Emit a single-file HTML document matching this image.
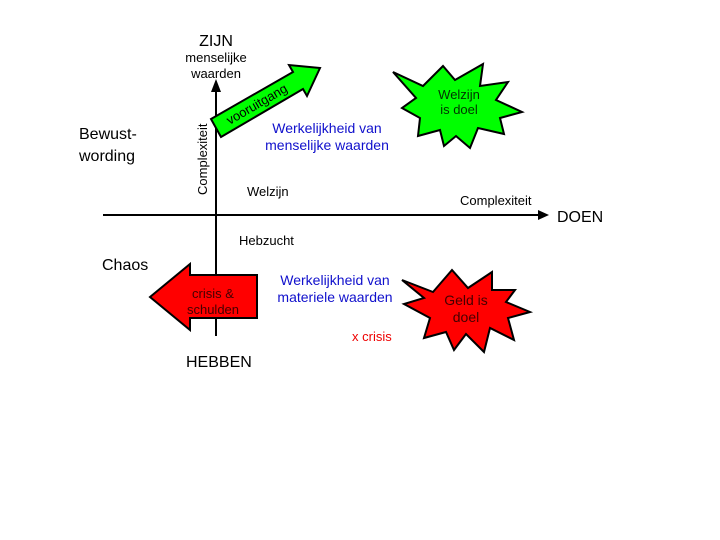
<!DOCTYPE html>
<html><head><style>body{margin:0;background:#fff}svg{display:block}</style></head><body>
<svg width="720" height="540" xmlns="http://www.w3.org/2000/svg" font-family="Liberation Sans, Arial, sans-serif">
<line x1="103" y1="215" x2="540" y2="215" stroke="#000" stroke-width="2"/>
<polygon points="549,215 538,210 538,220" fill="#000"/>
<line x1="216" y1="336" x2="216" y2="90" stroke="#000" stroke-width="2"/>
<polygon points="216,79 211,92 221,92" fill="#000"/>
<polygon points="221,137 211,119 293,72 289,65 320,68 307,96 303,89" fill="#00ff00" stroke="#000" stroke-width="2"/>
<text x="0" y="0" font-size="13" fill="#000" text-anchor="middle" transform="translate(259,108) rotate(-30)">vooruitgang</text>
<polygon points="150,297 190,264 190,275 257,275 257,318 190,318 190,330" fill="#ff0000" stroke="#000" stroke-width="2"/>
<text x="213" y="298" font-size="13" text-anchor="middle" fill="#400">crisis &amp;</text>
<text x="213" y="314" font-size="13" text-anchor="middle" fill="#400">schulden</text>
<polygon points="393,72 423,86 443,66 455,80 483,64 480,86 508,82 496,100 522,112 500,118 504,134 478,128 470,148 456,136 444,146 440,130 418,136 420,118 402,108 416,98" fill="#00ff00" stroke="#000" stroke-width="2"/>
<text x="459" y="99" font-size="13" text-anchor="middle" fill="#030">Welzijn</text>
<text x="459" y="114" font-size="13" text-anchor="middle" fill="#030">is doel</text>
<polygon points="402,280 433,292 452,270 468,288 492,272 492,290 515,290 506,302 530,312 508,318 514,340 490,328 484,352 466,334 454,350 446,332 424,338 430,318 404,304 424,298" fill="#ff0000" stroke="#000" stroke-width="2"/>
<text x="466" y="305" font-size="14" text-anchor="middle" fill="#400">Geld is</text>
<text x="466" y="322" font-size="14" text-anchor="middle" fill="#400">doel</text>
<text x="216" y="46" font-size="16" text-anchor="middle">ZIJN</text>
<text x="216" y="62" font-size="13" text-anchor="middle">menselijke</text>
<text x="216" y="78" font-size="13" text-anchor="middle">waarden</text>
<text x="0" y="0" font-size="13" transform="translate(207,195) rotate(-90)">Complexiteit</text>
<text x="79" y="139" font-size="16">Bewust-</text>
<text x="79" y="161" font-size="16">wording</text>
<text x="327" y="133" font-size="14" text-anchor="middle" fill="#1010cc">Werkelijkheid van</text>
<text x="327" y="150" font-size="14" text-anchor="middle" fill="#1010cc">menselijke waarden</text>
<text x="247" y="196" font-size="13">Welzijn</text>
<text x="460" y="205" font-size="13">Complexiteit</text>
<text x="557" y="222" font-size="16">DOEN</text>
<text x="239" y="245" font-size="13">Hebzucht</text>
<text x="102" y="270" font-size="16">Chaos</text>
<text x="335" y="285" font-size="14" text-anchor="middle" fill="#1010cc">Werkelijkheid van</text>
<text x="335" y="302" font-size="14" text-anchor="middle" fill="#1010cc">materiele waarden</text>
<text x="352" y="341" font-size="13" fill="#e00">x  crisis</text>
<text x="186" y="367" font-size="16">HEBBEN</text>
</svg>
</body></html>
